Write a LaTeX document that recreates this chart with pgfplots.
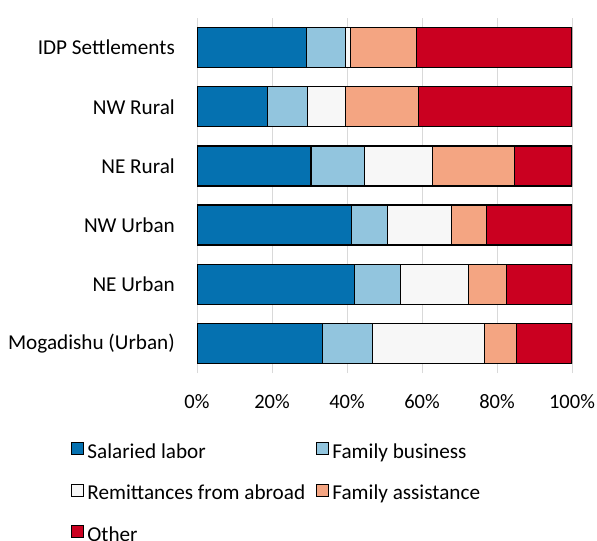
\documentclass[border=0pt]{standalone}
\usepackage{fontspec}
\setmainfont{Carlito}
\usepackage{pgfplots}
\usepackage{pgfplotstable}
\pgfplotsset{compat=1.18}
\definecolor{cSal}{HTML}{0571B0}
\definecolor{cFB}{HTML}{92C5DE}
\definecolor{cRem}{HTML}{F7F7F7}
\definecolor{cFA}{HTML}{F4A582}
\definecolor{cOth}{HTML}{CA0020}
\definecolor{gridgrey}{HTML}{D9D9D9}
\newcommand{\myfont}{\fontsize{20.5bp}{24bp}\selectfont}
\newcommand{\yfont}{\fontsize{21.2bp}{25bp}\selectfont}
\newcommand{\legfont}{\fontsize{21.2bp}{25bp}\selectfont}
\pgfplotstableread{
y sal fb rem fa oth
0 33.5 13.4 29.8 8.4 14.9
1 42.1 12.2 18.2 10.1 17.4
2 41.2 9.6 17.0 9.5 22.7
3 30.4 14.3 18.1 21.8 15.4
4 18.9 10.6 10.1 19.5 40.9
5 29.2 10.4 1.3 17.6 41.5
}\datatable
\begin{document}
\begin{tikzpicture}
\useasboundingbox (0,0) rectangle (597bp,541bp);
\begin{axis}[
  at={(197bp,168bp)}, anchor=south west,
  scale only axis, width=375bp, height=355bp,
  xbar stacked, bar width=40bp,
  xmin=0, xmax=100, ymin=-0.5, ymax=5.5,
  xtick={0,20,40,60,80,100},
  xticklabel={\pgfmathprintnumber{\tick}\%},
  ytick={0,1,2,3,4,5},
  yticklabels={Mogadishu (Urban),NE Urban,NW Urban,NE Rural,NW Rural,IDP Settlements},
  /pgf/number format/assume math mode=true,
  axis line style={draw=none},
  major tick length=0pt,
  xmajorgrids, grid style={gridgrey, line width=1bp},
  tick label style={font=\myfont, text=black},
  yticklabel style={font=\yfont, anchor=east, inner sep=0pt, xshift=-22bp},
  xticklabel style={anchor=north, inner sep=0pt, yshift=-21bp},
  legend columns=2,
  legend cell align=left,
  legend style={draw=none, fill=none, font=\legfont, inner sep=0pt,
    at={(-0.336,-0.194)}, anchor=north west,
    nodes={inner sep=0pt, text height=14bp, text depth=5bp},
    row sep=20.5bp,
    /tikz/every even column/.append style={column sep=11bp},
    /tikz/every odd column/.append style={column sep=3bp}},
  legend image code/.code={\draw[#1,draw=black,line width=1.2bp] (0bp,-1bp) rectangle (12bp,11bp);},
  every axis plot/.append style={draw=black, line width=1.2bp},
]
\addplot[fill=cSal] table[x=sal,y=y]{\datatable};
\addplot[fill=cFB] table[x=fb,y=y]{\datatable};
\addplot[fill=cRem] table[x=rem,y=y]{\datatable};
\addplot[fill=cFA] table[x=fa,y=y]{\datatable};
\addplot[fill=cOth] table[x=oth,y=y]{\datatable};
\legend{Salaried labor,Family business,Remittances from abroad,Family assistance,Other}
\end{axis}
\end{tikzpicture}
\end{document}
